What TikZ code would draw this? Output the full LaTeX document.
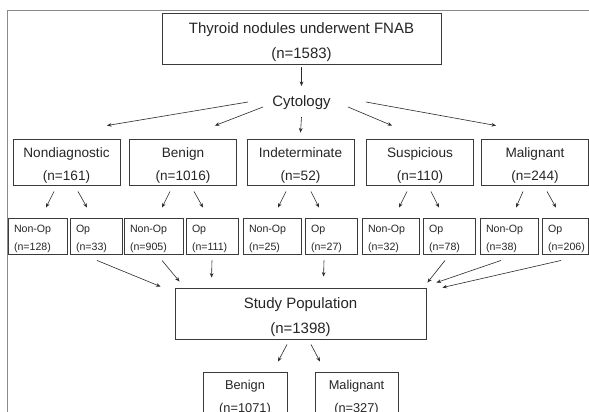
\documentclass[tikz,border=0pt]{standalone}
\usepackage{fontspec}
\setmainfont{Liberation Sans}
\usetikzlibrary{arrows.meta}
\definecolor{boxc}{HTML}{3A3A3A}
\definecolor{txtc}{HTML}{262626}
\definecolor{arrc}{HTML}{2A2A2A}
\definecolor{framec}{HTML}{8A8A8A}
\newcommand\lift[1]{\rule{0pt}{#1pt}}
\begin{document}
\begin{tikzpicture}[x=1pt,y=-1pt,
  bx/.style={draw=boxc, line width=0.9pt, inner sep=0pt, text=txtc, align=center},
  bigtxt/.style={font=\fontsize{15}{25}\selectfont},
  cattxt/.style={font=\fontsize{13.6}{23}\selectfont},
  subtxt/.style={font=\fontsize{10.6}{18}\selectfont},
  bottxt/.style={font=\fontsize{12.8}{23}\selectfont},
  bigbox/.style={bx, bigtxt},
  catbox/.style={bx, cattxt, minimum width=107pt, minimum height=46pt},
  subbox/.style={bx, subtxt, align=left, inner xsep=6pt, inner ysep=0pt, minimum height=36pt},
  botbox/.style={bx, bottxt, minimum height=47pt},
  arr/.style={-{Stealth[length=4.5pt,width=3.6pt]}, line width=0.6pt, draw=arrc}
]
\useasboundingbox (0,0) rectangle (589,412);
\clip (0,0) rectangle (589,412);
\fill[white] (0,0) rectangle (589,412);
\draw[framec, line width=1pt] (7,420) -- (7,11) -- (595,11);

% top
\node[bigbox, minimum width=279pt, minimum height=51pt] (T) at (301.5,38.5) {\lift{19}Thyroid nodules underwent FNAB\\(n=1583)};
\node[bigtxt, text=txtc, inner sep=0pt] (cyt) at (301.5,103) {Cytology};

% categories
\node[catbox] (ND) at (66.5,162) {\lift{17}Nondiagnostic\\(n=161)};
\node[catbox] (BE) at (183,162) {\lift{17}Benign\\(n=1016)};
\node[catbox] (IN) at (300.5,162) {\lift{17}Indeterminate\\(n=52)};
\node[catbox] (SU) at (420,162) {\lift{17}Suspicious\\(n=110)};
\node[catbox] (MA) at (535,162) {\lift{17}Malignant\\(n=244)};

% sub boxes
\node[subbox, text width=47pt] (NDn) at (37.5,236) {\lift{14}Non-Op\\(n=128)};
\node[subbox, text width=40pt] (NDo) at (96,236) {\lift{14}Op\\(n=33)};
\node[subbox, text width=47pt] (BEn) at (153.5,236) {\lift{14}Non-Op\\(n=905)};
\node[subbox, text width=40pt] (BEo) at (212,236) {\lift{14}Op\\(n=111)};
\node[subbox, text width=46pt] (INn) at (272,236) {\lift{14}Non-Op\\(n=25)};
\node[subbox, text width=40pt] (INo) at (331,236) {\lift{14}Op\\(n=27)};
\node[subbox, text width=45pt] (SUn) at (390.5,236) {\lift{14}Non-Op\\(n=32)};
\node[subbox, text width=40pt] (SUo) at (449,236) {\lift{14}Op\\(n=78)};
\node[subbox, text width=46pt] (MAn) at (509,236) {\lift{14}Non-Op\\(n=38)};
\node[subbox, text width=34pt] (MAo) at (565,236) {\lift{14}Op\\(n=206)};

% study population
\node[bigbox, minimum width=251pt, minimum height=51pt] (SP) at (300.5,313.5) {\lift{19}Study Population\\(n=1398)};

% bottom
\node[botbox, minimum width=84pt] (BB) at (245,395.5) {\lift{13.5}Benign\\(n=1071)};
\node[botbox, minimum width=83pt] (BM) at (356.5,395.5) {\lift{13.5}Malignant\\(n=327)};

% arrows top
\draw[arr] ([shift={(0,3)}]T.south) -- ([shift={(0,-17)}]cyt.center);
\draw[arr] ([shift={(-53.5,-1)}]cyt.center) -- ([shift={(40.5,-13)}]ND.north);
\draw[arr] ([shift={(-38.5,4)}]cyt.center) -- ([shift={(32,-13)}]BE.north);
\draw[arr] ([shift={(0,14)}]cyt.center) -- ([shift={(0,-6)}]IN.north);
\draw[arr] ([shift={(46.5,4)}]cyt.center) -- ([shift={(-28,-13)}]SU.north);
\draw[arr] ([shift={(64.5,-1)}]cyt.center) -- ([shift={(-39,-13)}]MA.north);

% category to sub
\draw[arr] ([shift={(-12.5,6)}]ND.south) -- ([shift={(8.5,-10)}]NDn.north);
\draw[arr] ([shift={(11.5,6)}]ND.south) -- ([shift={(-9,-10)}]NDo.north);
\draw[arr] ([shift={(-13,6)}]BE.south) -- ([shift={(8.5,-10)}]BEn.north);
\draw[arr] ([shift={(11,6)}]BE.south) -- ([shift={(-9,-10)}]BEo.north);
\draw[arr] ([shift={(-14.5,6)}]IN.south) -- ([shift={(6,-10)}]INn.north);
\draw[arr] ([shift={(10.5,6)}]IN.south) -- ([shift={(-12,-10)}]INo.north);
\draw[arr] ([shift={(-13,6)}]SU.south) -- ([shift={(8.5,-10)}]SUn.north);
\draw[arr] ([shift={(11,6)}]SU.south) -- ([shift={(-10,-10)}]SUo.north);
\draw[arr] ([shift={(-12,6)}]MA.south) -- ([shift={(7,-10)}]MAn.north);
\draw[arr] ([shift={(12,6)}]MA.south) -- ([shift={(-9,-10)}]MAo.north);

% sub to study
\draw[arr] ([shift={(1,6)}]NDo.south) -- ([shift={(-14,-1)}]SP.north west);
\draw[arr] ([shift={(8.5,6)}]BEn.south) -- ([shift={(5,-6)}]SP.north west);
\draw[arr] ([shift={(0,6)}]BEo.south) -- ([shift={(37,-10)}]SP.north west);
\draw[arr] ([shift={(-7,6)}]INo.south) -- ([shift={(149,-11)}]SP.north west);
\draw[arr] ([shift={(-4,6)}]SUo.south) -- ([shift={(1,-5)}]SP.north east);
\draw[arr] ([shift={(-8,6)}]MAn.south) -- ([shift={(10,-5)}]SP.north east);
\draw[arr] ([shift={(-4,6)}]MAo.south) -- ([shift={(16,0)}]SP.north east);

% study to bottom
\draw[arr] ([shift={(-13.5,5)}]SP.south) -- ([shift={(33,-10)}]BB.north);
\draw[arr] ([shift={(10.5,5)}]SP.south) -- ([shift={(-36.5,-10)}]BM.north);
\end{tikzpicture}
\end{document}
